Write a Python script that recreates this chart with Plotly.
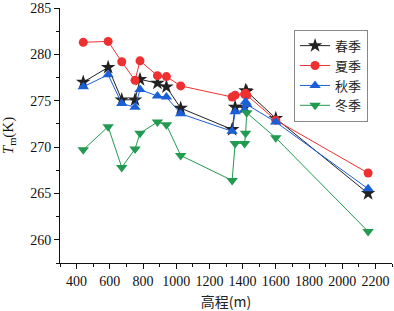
import plotly.graph_objects as go

elev = [440, 590, 672, 752, 782, 887, 941, 1027, 1337, 1355, 1412, 1418, 1425, 1600, 2156]
spring = [277.0, 278.6, 275.1, 275.1, 277.3, 276.9, 276.5, 274.2, 271.9, 274.3, 274.3, 276.1, 276.0, 273.1, 265.0]
summer = [281.3, 281.4, 279.2, 277.2, 279.3, 277.7, 277.6, 276.6, 275.4, 275.6, 275.7, 275.8, 275.6, 272.9, 267.2]
autumn = [276.5, 277.8, 274.7, 274.3, 276.2, 275.5, 275.4, 273.6, 271.7, 273.8, 274.0, 274.9, 274.6, 272.7, 265.5]
winter = [269.7, 272.2, 267.8, 269.8, 271.5, 272.7, 272.4, 269.1, 266.4, 270.4, 270.4, 271.5, 273.7, 271.0, 260.9]
names = ["春季", "夏季", "秋季", "冬季"]

series = [
    (spring, "#222222", "star", 11),
    (summer, "#ee3030", "circle", 9),
    (autumn, "#1a5fd6", "triangle-up", 10),
    (winter, "#229a50", "triangle-down", 10),
]

fig = go.Figure()
for (vals, col, sym, sz), nm in zip(series, names):
    fig.add_trace(go.Scatter(
        x=elev, y=vals, name=nm, mode="lines+markers",
        line=dict(color=col, width=1),
        marker=dict(symbol=sym, size=sz, color=col, line=dict(width=0)),
    ))

tickfont = dict(family="Liberation Serif, Times New Roman, serif", size=14, color="#111")
fig.update_layout(
    width=394, height=311, autosize=False,
    margin=dict(l=60, r=2, t=8, b=48),
    paper_bgcolor="white", plot_bgcolor="white",
    showlegend=True,
    legend=dict(x=0.705, y=0.915, xanchor="left", yanchor="top",
                bordercolor="#888", borderwidth=1, bgcolor="white",
                font=dict(family="Noto Sans CJK SC", size=13, color="#222"),
                tracegroupgap=0),
)
fig.update_xaxes(
    range=[300, 2300], tickmode="array", tickvals=list(range(400, 2201, 200)),
    ticks="outside", ticklen=5, tickwidth=1, tickcolor="#111",
    minor=dict(tickvals=list(range(300, 2301, 100)), ticks="outside", ticklen=3, tickcolor="#111"),
    showline=True, linecolor="#111", linewidth=1, showgrid=False, zeroline=False,
    tickfont=tickfont, automargin=False,
    title=dict(text="高程(m)", font=dict(family="Noto Sans CJK SC", size=14, color="#222")),
)
fig.update_yaxes(
    range=[257.5, 285], tickmode="array", tickvals=[260, 265, 270, 275, 280, 285],
    ticks="outside", ticklen=5, tickwidth=1, tickcolor="#111",
    minor=dict(tickvals=[257.5, 262.5, 267.5, 272.5, 277.5, 282.5], ticks="outside", ticklen=3, tickcolor="#111"),
    showline=True, linecolor="#111", linewidth=1, showgrid=False, zeroline=False,
    tickfont=tickfont, automargin=False,
    title=dict(text="<i>T</i><sub>m</sub>(K)", font=dict(family="Liberation Serif, Times New Roman, serif", size=15, color="#111")),
)
fig.write_html("out.html", config={"displayModeBar": False},
               post_script="document.body.style.margin='0';")
